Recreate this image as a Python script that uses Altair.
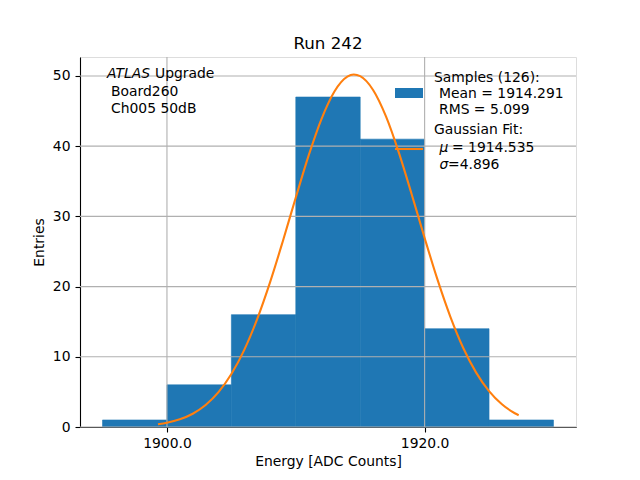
import altair as alt
import pandas as pd

# ---- data ----
bin_start = [1895, 1900, 1905, 1910, 1915, 1920, 1925]
bin_end = [1900, 1905, 1910, 1915, 1920, 1925, 1930]
counts = [1, 6, 16, 47, 41, 14, 1]

fit_x = [1899.3, 1900, 1901, 1902, 1903, 1904, 1905, 1906, 1907, 1908, 1909,
         1910, 1911, 1912, 1913, 1914, 1914.5, 1915, 1916, 1917, 1918, 1919,
         1920, 1921, 1922, 1923, 1924, 1925, 1926, 1927, 1927.3]
fit_y = [0.40, 0.61, 1.10, 1.89, 3.13, 4.96, 7.54, 10.98, 15.36, 20.60, 26.50,
         32.69, 38.68, 43.90, 47.79, 49.90, 50.20, 49.97, 48.00, 44.23, 39.08, 33.12,
         26.93, 20.99, 15.70, 11.26, 7.75, 5.11, 3.24, 1.96, 1.68]

x_ticks = [1900, 1920]
y_ticks = [0, 10, 20, 30, 40, 50]

FONT = "DejaVu Sans"
FS = 13.9
BLUE = "#1f77b4"
ORANGE = "#ff7f0e"
GRID = "#b0b0b0"

W, H = 496, 370

xscale = alt.Scale(domain=[1893.25, 1931.75], nice=False, zero=False)
yscale = alt.Scale(domain=[0, 52.7], nice=False, zero=False)

bars_df = pd.DataFrame({"start": bin_start, "end": bin_end, "count": counts,
                        "zero": [0] * len(counts)})
fit_df = pd.DataFrame({"start": fit_x, "count": fit_y})
xt_df = pd.DataFrame({"start": x_ticks})
yt_df = pd.DataFrame({"count": y_ticks})
one = pd.DataFrame({"a": [0]})

x_axis = alt.Axis(values=x_ticks, format=".1f", title="Energy [ADC Counts]", grid=False,
                  tickSize=5, labelPadding=4, titlePadding=5, domainColor="black",
                  tickColor="black", labelColor="black", titleColor="black",
                  labelFont=FONT, titleFont=FONT, labelFontSize=FS, titleFontSize=FS,
                  titleFontWeight="normal", labelFlush=False, domainWidth=1.1, tickWidth=1.1)
y_axis = alt.Axis(values=y_ticks, title="Entries", grid=False,
                  tickSize=5, labelPadding=5, titlePadding=6, domainColor="black",
                  tickColor="black", labelColor="black", titleColor="black",
                  labelFont=FONT, titleFont=FONT, labelFontSize=FS, titleFontSize=FS,
                  titleFontWeight="normal", labelFlush=False, domainWidth=1.1, tickWidth=1.1)

X = alt.X("start:Q", scale=xscale, axis=x_axis)
Y = alt.Y("count:Q", scale=yscale, axis=y_axis)

bars = alt.Chart(bars_df).mark_rect(color=BLUE, stroke=BLUE, strokeWidth=0.6).encode(
    x=X, x2="end:Q", y=Y, y2="zero:Q",
)

vgrid = alt.Chart(xt_df).mark_rule(color=GRID, strokeWidth=1.1).encode(x=X)
hgrid = alt.Chart(yt_df).mark_rule(color=GRID, strokeWidth=1.1).encode(y=Y)

fit = alt.Chart(fit_df).mark_line(color=ORANGE, strokeWidth=2.1,
                                  interpolate="monotone").encode(x=X, y=Y)


def txt(s, x, y, italic=False):
    return alt.Chart(one).mark_text(
        align="left", baseline="alphabetic", font=FONT, fontSize=FS, color="black",
        fontStyle="italic" if italic else "normal"
    ).encode(x=alt.value(x), y=alt.value(y), text=alt.value(s))


texts = [
    txt("ATLAS", 27, 21, italic=True),
    txt("Upgrade", 75, 21),
    txt("Board260", 31, 39),
    txt("Ch005 50dB", 31, 56),
    txt("Samples (126):", 354, 25),
    txt("Mean = 1914.291", 359, 41),
    txt("RMS = 5.099", 359, 57),
    txt("Gaussian Fit:", 354, 77),
    txt("\u03bc", 359.5, 95, italic=True),
    txt("= 1914.535", 372, 95),
    txt("\u03c3", 359.5, 112, italic=True),
    txt("=4.896", 368, 112),
]

patch = alt.Chart(one).mark_rect(color=BLUE).encode(
    x=alt.value(315), x2=alt.value(343), y=alt.value(31), y2=alt.value(41)
)
leg_line = alt.Chart(one).mark_rule(color=ORANGE, strokeWidth=2.1).encode(
    x=alt.value(315), x2=alt.value(343), y=alt.value(92)
)

chart = alt.layer(bars, vgrid, hgrid, fit, patch, leg_line, *texts).properties(
    width=W, height=H,
    title=alt.Title("Run 242", font=FONT, fontSize=16.7, fontWeight="normal",
                    color="black", anchor="middle", baseline="alphabetic", offset=9,
                    frame="group", dy=18),
    padding={"left": 72, "top": 49, "right": 56, "bottom": 45},
    autosize=alt.AutoSizeParams(type="none"),
).configure_view(stroke="black", strokeWidth=1.1).configure(background="white")

chart.save("out.html", embed_options={"renderer": "svg", "actions": False})
